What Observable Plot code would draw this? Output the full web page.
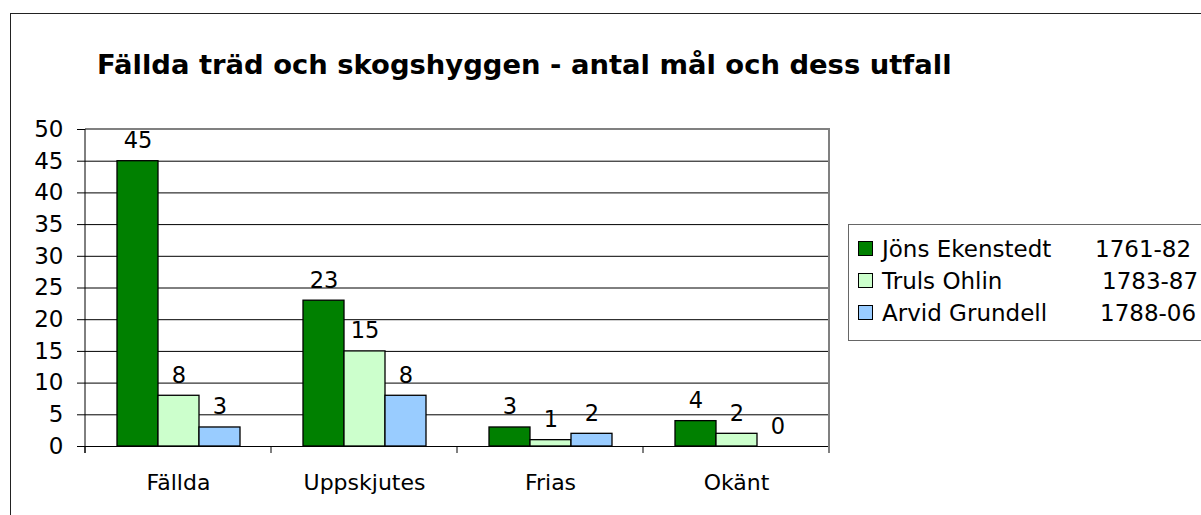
<!DOCTYPE html>
<html>
<head>
<meta charset="utf-8">
<script src="https://cdn.jsdelivr.net/npm/d3@7"></script>
<script src="https://cdn.jsdelivr.net/npm/@observablehq/plot@0.6"></script>
<style>
  html, body { margin: 0; padding: 0; background: #fff; }
  #wrap { position: relative; width: 1201px; height: 515px; overflow: hidden; font-family: "DejaVu Sans", sans-serif; }
  #border { position: absolute; left: 10px; top: 13px; width: 1400px; height: 700px; border-left: 1.5px solid #222; border-top: 1.5px solid #222; }
  #title { position: absolute; left: 97px; top: 51px; font-size: 27.4px; line-height: 27px; font-weight: bold; white-space: nowrap; color: #000; }
  #chart { position: absolute; left: 0; top: 0; }
  #legend { position: absolute; left: 848px; top: 224px; width: 420px; height: 115px; border: 1.5px solid #666; background: #fff; }
  .item { position: absolute; left: 0; height: 23px; font-size: 23px; line-height: 23px; white-space: nowrap; color: #000; }
  .sw { position: absolute; width: 13px; height: 13px; border: 1.5px solid #000; }
  .name { position: absolute; }
  .period { position: absolute; }
</style>
</head>
<body>
<div id="wrap">
  <div id="border"></div>
  <div id="chart"></div>
  <div id="title"></div>
  <div id="legend"></div>
</div>
<script>
const title = "Fällda träd och skogshyggen - antal mål och dess utfall";
const categories = ["Fällda", "Uppskjutes", "Frias", "Okänt"];
const series = ["Jöns Ekenstedt", "Truls Ohlin", "Arvid Grundell"];
const periods = ["1761-82", "1783-87", "1788-06"];
const jons = [45, 23, 3, 4];
const truls = [8, 15, 1, 2];
const arvid = [3, 8, 2, 0];
const colors = ["#008000", "#CCFFCC", "#99CCFF"];
const yTicks = [0, 5, 10, 15, 20, 25, 30, 35, 40, 45, 50];
const gridTicks = [5, 10, 15, 20, 25, 30, 35, 40, 45];

const seriesValues = [jons, truls, arvid];
const data = [];
categories.forEach((c, i) => {
  series.forEach((s, j) => data.push({category: c, series: s, value: seriesValues[j][i]}));
});

document.getElementById("title").textContent = title;

const chart = Plot.plot({
  width: 860,
  height: 515,
  marginLeft: 84,
  marginRight: 30,
  marginTop: 129,
  marginBottom: 69,
  style: {fontFamily: "DejaVu Sans", fontSize: "22px", color: "#000", background: "transparent", overflow: "visible"},
  fx: {domain: categories, padding: 0, axis: null, label: null},
  x: {domain: series, paddingInner: 0, paddingOuter: 0.738, axis: null},
  y: {domain: [0, 50], axis: null},
  color: {domain: series, range: colors},
  marks: [
    Plot.gridY(gridTicks, {stroke: "#000", strokeOpacity: 1}),
    Plot.barY(data, {fx: "category", x: "series", y: "value", fill: "series", stroke: "#000", strokeWidth: 1.3}),
    Plot.ruleY([0], {stroke: "#000"}),
    Plot.text(data, {fx: "category", x: "series", y: "value", text: d => String(d.value), dy: -13, lineAnchor: "bottom", fontSize: 22.5, fill: "#000"}),
    Plot.axisY({ticks: yTicks, tickSize: 8, tickPadding: 14, fontSize: 23, label: null, stroke: "#000"}),
    Plot.axisFx({anchor: "bottom", tickSize: 0, tickPadding: 28, fontSize: 22, label: null})
  ]
});
document.getElementById("chart").appendChild(chart);

// frame, axis line and category boundary ticks from the library's scales
const fx = chart.scale("fx");
const ys = chart.scale("y");
const bw = fx.bandwidth != null ? fx.bandwidth : (fx.range[1] - fx.range[0]) / categories.length;
const left = fx.apply(categories[0]);
const right = fx.apply(categories[categories.length - 1]) + bw;
const y0 = ys.apply(0), yTop = ys.apply(50);
const svg = d3.select(chart);
const g = svg.append("g");
const bounds = categories.map(c => fx.apply(c)).concat([right]);
g.selectAll("line.bt").data(bounds).join("line")
  .attr("x1", d => d).attr("x2", d => d).attr("y1", y0).attr("y2", y0 + 7)
  .attr("stroke", "#000");
g.append("line").attr("x1", left).attr("x2", right).attr("y1", yTop).attr("y2", yTop)
  .attr("stroke", "#808080").attr("stroke-width", 2);
g.append("line").attr("x1", right).attr("x2", right).attr("y1", yTop - 1).attr("y2", y0 + 7)
  .attr("stroke", "#808080").attr("stroke-width", 2);
g.append("line").attr("x1", left).attr("x2", left).attr("y1", yTop).attr("y2", y0 + 7)
  .attr("stroke", "#000");

// legend
const legend = document.getElementById("legend");
const rowTops = [13, 45, 77];
const periodLeft = [246, 253, 251];
series.forEach((s, i) => {
  const item = document.createElement("div");
  item.className = "item";
  item.style.top = rowTops[i] + "px";
  item.style.width = "400px";
  const sw = document.createElement("div");
  sw.className = "sw";
  sw.style.left = "9px";
  sw.style.top = "3px";
  sw.style.background = colors[i];
  const name = document.createElement("span");
  name.className = "name";
  name.style.left = "33px";
  name.textContent = s;
  const per = document.createElement("span");
  per.className = "period";
  per.style.left = periodLeft[i] + "px";
  per.textContent = periods[i];
  item.appendChild(sw); item.appendChild(name); item.appendChild(per);
  legend.appendChild(item);
});
</script>
</body>
</html>
